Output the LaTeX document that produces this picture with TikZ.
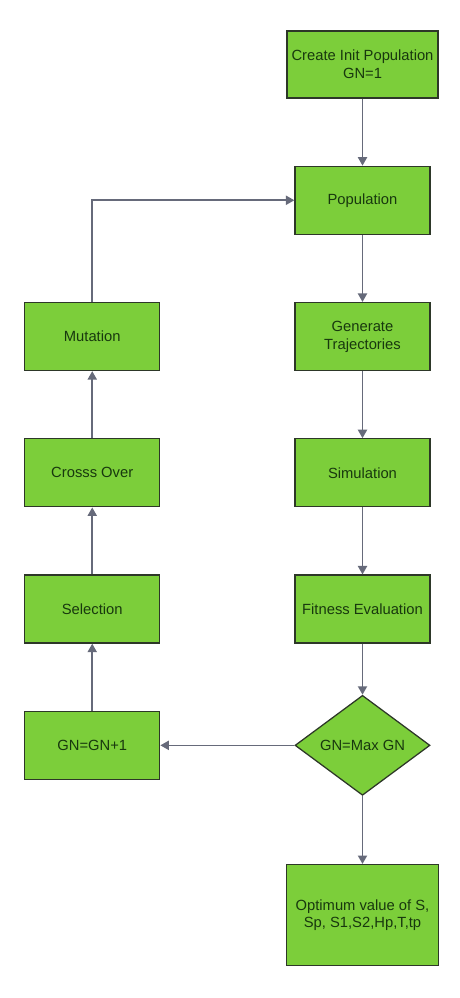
\documentclass[tikz,border=0pt]{standalone}
\usepackage{fontspec}
\setmainfont{Liberation Sans}
\usepackage{xcolor}
\usetikzlibrary{positioning,shapes.geometric,arrows.meta}

\definecolor{boxgreen}{RGB}{124,206,58}
\definecolor{boxline}{RGB}{45,55,40}
\definecolor{textgreen}{RGB}{24,56,14}
\definecolor{flowgray}{RGB}{102,106,122}

\tikzset{
	stepbox/.style={rectangle,draw=boxline,line width=0.9pt,fill=boxgreen,text=textgreen,
		align=center,inner sep=1pt,minimum width=3.375cm,minimum height=1.7cm,
		font=\fontsize{10.5}{12.6}\selectfont},
	decbox/.style={diamond,draw=boxline,line width=0.9pt,fill=boxgreen,text=textgreen,
		inner sep=0pt,minimum width=3.375cm,minimum height=2.5cm,
		font=\fontsize{10.5}{12.6}\selectfont},
	flow/.style={draw=flowgray,line width=1.1pt,-{Triangle[length=6pt,width=6.5pt]}}
}

\begin{document}
\begin{tikzpicture}
		\useasboundingbox (0,0) rectangle (11.5,-24.95);
		\node[stepbox,minimum width=3.775cm,minimum height=1.675cm] (init) at (9.0625,-1.6125) {Create Init Population\\GN=1};
		\node[stepbox,below=1.675cm of init] (pop) {Population};
		\node[stepbox,below=1.675cm of pop] (gen) {Generate\\Trajectories};
		\node[stepbox,below=1.675cm of gen] (sim) {Simulation};
		\node[stepbox,below=1.675cm of sim] (fit) {Fitness Evaluation};
		\node[decbox,below=1.275cm of fit] (dec) {GN=Max GN};
		\node[stepbox,below=1.7cm of dec,minimum width=3.8cm,minimum height=2.525cm] (opt) {Optimum value of S,\\Sp, S1,S2,Hp,T,tp};
		%
		\node[stepbox,left=3.35cm of gen] (mut) {Mutation};
		\node[stepbox,left=3.35cm of sim] (cro) {Crosss Over};
		\node[stepbox,left=3.35cm of fit] (sel) {Selection};
		\node[stepbox,left=3.35cm of dec] (inc) {GN=GN+1};
		%
		\draw[flow] (init) -- (pop);
		\draw[flow] (pop) -- (gen);
		\draw[flow] (gen) -- (sim);
		\draw[flow] (sim) -- (fit);
		\draw[flow] (fit) -- (dec);
		\draw[flow] (dec) -- (opt);
		\draw[flow] (dec) -- (inc);
		\draw[flow] (inc) -- (sel);
		\draw[flow] (sel) -- (cro);
		\draw[flow] (cro) -- (mut);
		\draw[flow] (mut.north) |- (pop.west);
	\end{tikzpicture}
\end{document}
